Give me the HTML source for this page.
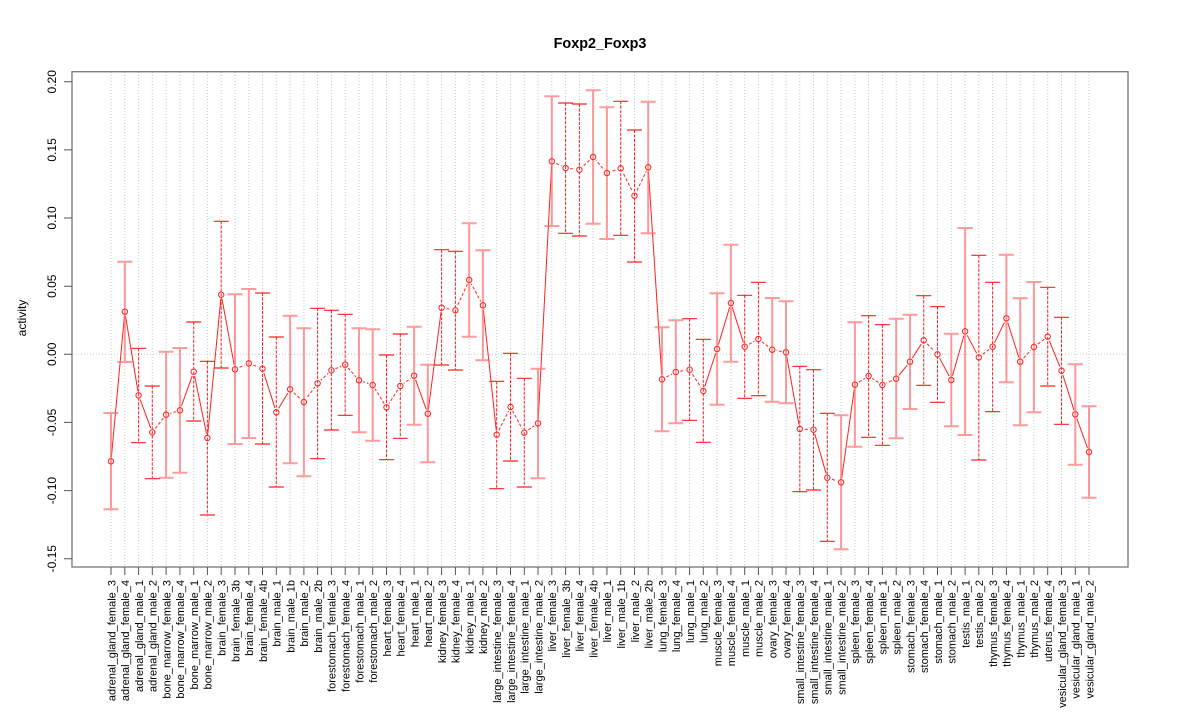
<!DOCTYPE html>
<html><head><meta charset="utf-8"><style>
html,body{margin:0;padding:0;background:#fff;}
svg{display:block;}
text{font-family:"Liberation Sans",Arial,sans-serif;fill:#000;}
.xl{font-size:11px;}
</style></head><body>
<svg width="1200" height="720" viewBox="0 0 1200 720" xmlns="http://www.w3.org/2000/svg">
<defs>
<g id="pts">
<circle cx="111" cy="461.3" r="2.7"/><circle cx="124.8" cy="311.7" r="2.7"/><circle cx="138.6" cy="395.3" r="2.7"/><circle cx="152.3" cy="432.3" r="2.7"/><circle cx="166.1" cy="414.7" r="2.7"/><circle cx="179.9" cy="410.3" r="2.7"/><circle cx="193.7" cy="371.7" r="2.7"/><circle cx="207.4" cy="438" r="2.7"/><circle cx="221.2" cy="294.7" r="2.7"/><circle cx="235" cy="369.3" r="2.7"/><circle cx="248.8" cy="363.3" r="2.7"/><circle cx="262.5" cy="368.7" r="2.7"/><circle cx="276.3" cy="412.3" r="2.7"/><circle cx="290.1" cy="389.3" r="2.7"/><circle cx="303.9" cy="402" r="2.7"/><circle cx="317.6" cy="383.3" r="2.7"/><circle cx="331.4" cy="370.3" r="2.7"/><circle cx="345.2" cy="364.7" r="2.7"/><circle cx="359" cy="380.3" r="2.7"/><circle cx="372.7" cy="385" r="2.7"/><circle cx="386.5" cy="407.3" r="2.7"/><circle cx="400.3" cy="386" r="2.7"/><circle cx="414.1" cy="375.7" r="2.7"/><circle cx="427.8" cy="413.7" r="2.7"/><circle cx="441.6" cy="307.7" r="2.7"/><circle cx="455.4" cy="310.3" r="2.7"/><circle cx="469.2" cy="280" r="2.7"/><circle cx="482.9" cy="305.3" r="2.7"/><circle cx="496.7" cy="434.7" r="2.7"/><circle cx="510.5" cy="407" r="2.7"/><circle cx="524.3" cy="432.7" r="2.7"/><circle cx="538" cy="423.3" r="2.7"/><circle cx="551.8" cy="161.3" r="2.7"/><circle cx="565.6" cy="168" r="2.7"/><circle cx="579.4" cy="169.7" r="2.7"/><circle cx="593.1" cy="157" r="2.7"/><circle cx="606.9" cy="173" r="2.7"/><circle cx="620.7" cy="168.3" r="2.7"/><circle cx="634.5" cy="195.7" r="2.7"/><circle cx="648.2" cy="167.3" r="2.7"/><circle cx="662" cy="379.3" r="2.7"/><circle cx="675.8" cy="372" r="2.7"/><circle cx="689.6" cy="369.7" r="2.7"/><circle cx="703.3" cy="391" r="2.7"/><circle cx="717.1" cy="349" r="2.7"/><circle cx="730.9" cy="303" r="2.7"/><circle cx="744.7" cy="346.7" r="2.7"/><circle cx="758.4" cy="339" r="2.7"/><circle cx="772.2" cy="349.7" r="2.7"/><circle cx="786" cy="352.3" r="2.7"/><circle cx="799.8" cy="429" r="2.7"/><circle cx="813.5" cy="429.7" r="2.7"/><circle cx="827.3" cy="477.7" r="2.7"/><circle cx="841.1" cy="482.3" r="2.7"/><circle cx="854.9" cy="384.7" r="2.7"/><circle cx="868.6" cy="376" r="2.7"/><circle cx="882.4" cy="385" r="2.7"/><circle cx="896.2" cy="378.7" r="2.7"/><circle cx="910" cy="361.7" r="2.7"/><circle cx="923.7" cy="340.3" r="2.7"/><circle cx="937.5" cy="354.3" r="2.7"/><circle cx="951.3" cy="380" r="2.7"/><circle cx="965.1" cy="331.3" r="2.7"/><circle cx="978.8" cy="357.3" r="2.7"/><circle cx="992.6" cy="346.7" r="2.7"/><circle cx="1006.4" cy="318.3" r="2.7"/><circle cx="1020.2" cy="361.7" r="2.7"/><circle cx="1033.9" cy="347" r="2.7"/><circle cx="1047.7" cy="336.7" r="2.7"/><circle cx="1061.5" cy="370.7" r="2.7"/><circle cx="1075.3" cy="414.3" r="2.7"/><circle cx="1089" cy="452" r="2.7"/>
</g>
</defs>

<!-- grid -->
<path fill="none" stroke="#c8c8c8" stroke-width="1" stroke-dasharray="1 2" d="M111 72V567M124.8 72V567M138.6 72V567M152.3 72V567M166.1 72V567M179.9 72V567M193.7 72V567M207.4 72V567M221.2 72V567M235 72V567M248.8 72V567M262.5 72V567M276.3 72V567M290.1 72V567M303.9 72V567M317.6 72V567M331.4 72V567M345.2 72V567M359 72V567M372.7 72V567M386.5 72V567M400.3 72V567M414.1 72V567M427.8 72V567M441.6 72V567M455.4 72V567M469.2 72V567M482.9 72V567M496.7 72V567M510.5 72V567M524.3 72V567M538 72V567M551.8 72V567M565.6 72V567M579.4 72V567M593.1 72V567M606.9 72V567M620.7 72V567M634.5 72V567M648.2 72V567M662 72V567M675.8 72V567M689.6 72V567M703.3 72V567M717.1 72V567M730.9 72V567M744.7 72V567M758.4 72V567M772.2 72V567M786 72V567M799.8 72V567M813.5 72V567M827.3 72V567M841.1 72V567M854.9 72V567M868.6 72V567M882.4 72V567M896.2 72V567M910 72V567M923.7 72V567M937.5 72V567M951.3 72V567M965.1 72V567M978.8 72V567M992.6 72V567M1006.4 72V567M1020.2 72V567M1033.9 72V567M1047.7 72V567M1061.5 72V567M1075.3 72V567M1089 72V567M72 354.3H1128"/>

<!-- connecting segments -->
<path fill="none" stroke="#ff2020" stroke-width="1" d="M111 461.3L124.8 311.7L138.6 395.3L152.3 432.3M179.9 410.3L193.7 371.7L207.4 438L221.2 294.7L235 369.3M262.5 368.7L276.3 412.3L290.1 389.3M414.1 375.7L427.8 413.7L441.6 307.7M482.9 305.3L496.7 434.7M538 423.3L551.8 161.3M648.2 167.3L662 379.3M703.3 391L717.1 349L730.9 303L744.7 346.7M786 352.3L799.8 429M813.5 429.7L827.3 477.7M841.1 482.3L854.9 384.7M896.2 378.7L910 361.7L923.7 340.3M937.5 354.3L951.3 380L965.1 331.3L978.8 357.3M992.6 346.7L1006.4 318.3L1020.2 361.7M1047.7 336.7L1061.5 370.7L1075.3 414.3L1089 452"/>
<path fill="none" stroke="#ff2020" stroke-width="1" stroke-dasharray="3 2" d="M152.3 432.3L166.1 414.7L179.9 410.3M235 369.3L248.8 363.3L262.5 368.7M290.1 389.3L303.9 402L317.6 383.3L331.4 370.3L345.2 364.7L359 380.3L372.7 385L386.5 407.3L400.3 386L414.1 375.7M441.6 307.7L455.4 310.3L469.2 280L482.9 305.3M496.7 434.7L510.5 407L524.3 432.7L538 423.3M551.8 161.3L565.6 168L579.4 169.7L593.1 157L606.9 173L620.7 168.3L634.5 195.7L648.2 167.3M662 379.3L675.8 372L689.6 369.7L703.3 391M744.7 346.7L758.4 339L772.2 349.7L786 352.3M799.8 429L813.5 429.7M827.3 477.7L841.1 482.3M854.9 384.7L868.6 376L882.4 385L896.2 378.7M923.7 340.3L937.5 354.3M978.8 357.3L992.6 346.7M1020.2 361.7L1033.9 347L1047.7 336.7"/>

<!-- white gaps around points -->
<use href="#pts" fill="#fff" stroke="#fff" stroke-width="3.6"/>

<!-- pink solid error bars -->
<path fill="none" stroke="#ff7070" stroke-opacity="0.7" stroke-width="2" d="M111 413V509.3M103.5 413H118.5M103.5 509.3H118.5M124.8 261.7V362M117.3 261.7H132.3M117.3 362H132.3M166.1 351.7V477.7M158.6 351.7H173.6M158.6 477.7H173.6M179.9 348V472.7M172.4 348H187.4M172.4 472.7H187.4M235 294.3V444M227.5 294.3H242.5M227.5 444H242.5M248.8 289V438M241.3 289H256.3M241.3 438H256.3M290.1 315.7V463.3M282.6 315.7H297.6M282.6 463.3H297.6M303.9 328.3V476.3M296.4 328.3H311.4M296.4 476.3H311.4M359 328.3V432.3M351.5 328.3H366.5M351.5 432.3H366.5M372.7 329.3V440.7M365.2 329.3H380.2M365.2 440.7H380.2M414.1 326.7V424.7M406.6 326.7H421.6M406.6 424.7H421.6M427.8 364.7V462.3M420.3 364.7H435.3M420.3 462.3H435.3M469.2 223.3V336.7M461.7 223.3H476.7M461.7 336.7H476.7M482.9 250.3V360.3M475.4 250.3H490.4M475.4 360.3H490.4M538 368.7V478.3M530.5 368.7H545.5M530.5 478.3H545.5M551.8 96.3V226M544.3 96.3H559.3M544.3 226H559.3M593.1 90.3V223.7M585.6 90.3H600.6M585.6 223.7H600.6M606.9 107.3V239M599.4 107.3H614.4M599.4 239H614.4M648.2 101.7V233.3M640.7 101.7H655.7M640.7 233.3H655.7M662 327.3V431.3M654.5 327.3H669.5M654.5 431.3H669.5M675.8 320.3V423.3M668.3 320.3H683.3M668.3 423.3H683.3M717.1 293.3V404.7M709.6 293.3H724.6M709.6 404.7H724.6M730.9 244.7V361.7M723.4 244.7H738.4M723.4 361.7H738.4M772.2 298V401.7M764.7 298H779.7M764.7 401.7H779.7M786 301.3V403.3M778.5 301.3H793.5M778.5 403.3H793.5M841.1 415.3V549.3M833.6 415.3H848.6M833.6 549.3H848.6M854.9 322.3V446.7M847.4 322.3H862.4M847.4 446.7H862.4M896.2 318.7V438.3M888.7 318.7H903.7M888.7 438.3H903.7M910 314.7V409M902.5 314.7H917.5M902.5 409H917.5M951.3 333.7V426.3M943.8 333.7H958.8M943.8 426.3H958.8M965.1 228V435M957.6 228H972.6M957.6 435H972.6M1006.4 254.7V382.3M998.9 254.7H1013.9M998.9 382.3H1013.9M1020.2 298.3V425.3M1012.7 298.3H1027.7M1012.7 425.3H1027.7M1033.9 282V412.3M1026.4 282H1041.4M1026.4 412.3H1041.4M1075.3 364.3V464.7M1067.8 364.3H1082.8M1067.8 464.7H1082.8M1089 406.3V497.7M1081.5 406.3H1096.5M1081.5 497.7H1096.5"/>

<!-- red dashed error bars -->
<path fill="none" stroke="#ff2020" stroke-width="1" stroke-dasharray="3 1.5" d="M138.6 348.3V442.7M152.3 386V478.7M193.7 322V421M207.4 361.3V515M221.2 221.3V368M262.5 293V444M276.3 337V487M317.6 308.3V458.7M331.4 310.3V430M345.2 314.3V415.3M386.5 355V459.7M400.3 334V438.3M441.6 249.7V365M455.4 251.3V370M496.7 381.3V488.7M510.5 353.3V461M524.3 378.3V487M565.6 103V233.3M579.4 104V236M620.7 101.3V235.3M634.5 130V262M689.6 318.7V420.3M703.3 339.3V442.3M744.7 295.3V398.3M758.4 282.3V395.7M799.8 366.3V491.7M813.5 369.7V490M827.3 413.3V541.3M868.6 315.7V437.3M882.4 324.7V445.3M923.7 295.7V385.3M937.5 306.7V402.3M978.8 255.3V460M992.6 282.3V411.7M1047.7 287.3V386M1061.5 317.3V424.3"/>
<path fill="none" stroke="#ff2020" stroke-width="1.2" d="M131.1 348.3h15M131.1 442.7h15M144.8 386h15M144.8 478.7h15M186.2 322h15M186.2 421h15M199.9 361.3h15M199.9 515h15M213.7 221.3h15M213.7 368h15M255 293h15M255 444h15M268.8 337h15M268.8 487h15M310.1 308.3h15M310.1 458.7h15M323.9 310.3h15M323.9 430h15M337.7 314.3h15M337.7 415.3h15M379 355h15M379 459.7h15M392.8 334h15M392.8 438.3h15M434.1 249.7h15M434.1 365h15M447.9 251.3h15M447.9 370h15M489.2 381.3h15M489.2 488.7h15M503 353.3h15M503 461h15M516.8 378.3h15M516.8 487h15M558.1 103h15M558.1 233.3h15M571.9 104h15M571.9 236h15M613.2 101.3h15M613.2 235.3h15M627 130h15M627 262h15M682.1 318.7h15M682.1 420.3h15M695.8 339.3h15M695.8 442.3h15M737.2 295.3h15M737.2 398.3h15M750.9 282.3h15M750.9 395.7h15M792.3 366.3h15M792.3 491.7h15M806 369.7h15M806 490h15M819.8 413.3h15M819.8 541.3h15M861.1 315.7h15M861.1 437.3h15M874.9 324.7h15M874.9 445.3h15M916.2 295.7h15M916.2 385.3h15M930 306.7h15M930 402.3h15M971.3 255.3h15M971.3 460h15M985.1 282.3h15M985.1 411.7h15M1040.2 287.3h15M1040.2 386h15M1054 317.3h15M1054 424.3h15"/>

<!-- points -->
<use href="#pts" fill="none" stroke="#ff2020" stroke-width="1"/>

<!-- box -->
<rect x="72" y="71.7" width="1056" height="495.3" fill="none" stroke="#808080" stroke-width="1.4"/>

<!-- y axis ticks -->
<path fill="none" stroke="#555" stroke-width="1" d="M64 81.8H72M64 149.9H72M64 218H72M64 286.2H72M64 354.3H72M64 422.4H72M64 490.6H72M64 558.7H72"/>
<g font-size="12" text-anchor="middle">
<text transform="translate(56,81.8) rotate(-90)">0.20</text>
<text transform="translate(56,149.9) rotate(-90)">0.15</text>
<text transform="translate(56,218) rotate(-90)">0.10</text>
<text transform="translate(56,286.2) rotate(-90)">0.05</text>
<text transform="translate(56,354.3) rotate(-90)">0.00</text>
<text transform="translate(56,422.4) rotate(-90)">-0.05</text>
<text transform="translate(56,490.6) rotate(-90)">-0.10</text>
<text transform="translate(56,558.7) rotate(-90)">-0.15</text>
</g>
<text font-size="12" text-anchor="middle" transform="translate(26,318) rotate(-90)">activity</text>
<text x="600" y="48" font-size="14.4" font-weight="bold" text-anchor="middle">Foxp2_Foxp3</text>

<!-- x ticks -->
<path fill="none" stroke="#555" stroke-width="1" d="M111 567V575M124.8 567V575M138.6 567V575M152.3 567V575M166.1 567V575M179.9 567V575M193.7 567V575M207.4 567V575M221.2 567V575M235 567V575M248.8 567V575M262.5 567V575M276.3 567V575M290.1 567V575M303.9 567V575M317.6 567V575M331.4 567V575M345.2 567V575M359 567V575M372.7 567V575M386.5 567V575M400.3 567V575M414.1 567V575M427.8 567V575M441.6 567V575M455.4 567V575M469.2 567V575M482.9 567V575M496.7 567V575M510.5 567V575M524.3 567V575M538 567V575M551.8 567V575M565.6 567V575M579.4 567V575M593.1 567V575M606.9 567V575M620.7 567V575M634.5 567V575M648.2 567V575M662 567V575M675.8 567V575M689.6 567V575M703.3 567V575M717.1 567V575M730.9 567V575M744.7 567V575M758.4 567V575M772.2 567V575M786 567V575M799.8 567V575M813.5 567V575M827.3 567V575M841.1 567V575M854.9 567V575M868.6 567V575M882.4 567V575M896.2 567V575M910 567V575M923.7 567V575M937.5 567V575M951.3 567V575M965.1 567V575M978.8 567V575M992.6 567V575M1006.4 567V575M1020.2 567V575M1033.9 567V575M1047.7 567V575M1061.5 567V575M1075.3 567V575M1089 567V575"/>

<!-- x labels -->
<g class="xl" text-anchor="end">
<text transform="translate(115.3,580) rotate(-90)">adrenal_gland_female_3</text>
<text transform="translate(129.1,580) rotate(-90)">adrenal_gland_female_4</text>
<text transform="translate(142.9,580) rotate(-90)">adrenal_gland_male_1</text>
<text transform="translate(156.6,580) rotate(-90)">adrenal_gland_male_2</text>
<text transform="translate(170.4,580) rotate(-90)">bone_marrow_female_3</text>
<text transform="translate(184.2,580) rotate(-90)">bone_marrow_female_4</text>
<text transform="translate(198,580) rotate(-90)">bone_marrow_male_1</text>
<text transform="translate(211.7,580) rotate(-90)">bone_marrow_male_2</text>
<text transform="translate(225.5,580) rotate(-90)">brain_female_3</text>
<text transform="translate(239.3,580) rotate(-90)">brain_female_3b</text>
<text transform="translate(253.1,580) rotate(-90)">brain_female_4</text>
<text transform="translate(266.8,580) rotate(-90)">brain_female_4b</text>
<text transform="translate(280.6,580) rotate(-90)">brain_male_1</text>
<text transform="translate(294.4,580) rotate(-90)">brain_male_1b</text>
<text transform="translate(308.2,580) rotate(-90)">brain_male_2</text>
<text transform="translate(321.9,580) rotate(-90)">brain_male_2b</text>
<text transform="translate(335.7,580) rotate(-90)">forestomach_female_3</text>
<text transform="translate(349.5,580) rotate(-90)">forestomach_female_4</text>
<text transform="translate(363.3,580) rotate(-90)">forestomach_male_1</text>
<text transform="translate(377,580) rotate(-90)">forestomach_male_2</text>
<text transform="translate(390.8,580) rotate(-90)">heart_female_3</text>
<text transform="translate(404.6,580) rotate(-90)">heart_female_4</text>
<text transform="translate(418.4,580) rotate(-90)">heart_male_1</text>
<text transform="translate(432.1,580) rotate(-90)">heart_male_2</text>
<text transform="translate(445.9,580) rotate(-90)">kidney_female_3</text>
<text transform="translate(459.7,580) rotate(-90)">kidney_female_4</text>
<text transform="translate(473.5,580) rotate(-90)">kidney_male_1</text>
<text transform="translate(487.2,580) rotate(-90)">kidney_male_2</text>
<text transform="translate(501,580) rotate(-90)">large_intestine_female_3</text>
<text transform="translate(514.8,580) rotate(-90)">large_intestine_female_4</text>
<text transform="translate(528.6,580) rotate(-90)">large_intestine_male_1</text>
<text transform="translate(542.3,580) rotate(-90)">large_intestine_male_2</text>
<text transform="translate(556.1,580) rotate(-90)">liver_female_3</text>
<text transform="translate(569.9,580) rotate(-90)">liver_female_3b</text>
<text transform="translate(583.7,580) rotate(-90)">liver_female_4</text>
<text transform="translate(597.4,580) rotate(-90)">liver_female_4b</text>
<text transform="translate(611.2,580) rotate(-90)">liver_male_1</text>
<text transform="translate(625,580) rotate(-90)">liver_male_1b</text>
<text transform="translate(638.8,580) rotate(-90)">liver_male_2</text>
<text transform="translate(652.5,580) rotate(-90)">liver_male_2b</text>
<text transform="translate(666.3,580) rotate(-90)">lung_female_3</text>
<text transform="translate(680.1,580) rotate(-90)">lung_female_4</text>
<text transform="translate(693.9,580) rotate(-90)">lung_male_1</text>
<text transform="translate(707.6,580) rotate(-90)">lung_male_2</text>
<text transform="translate(721.4,580) rotate(-90)">muscle_female_3</text>
<text transform="translate(735.2,580) rotate(-90)">muscle_female_4</text>
<text transform="translate(749,580) rotate(-90)">muscle_male_1</text>
<text transform="translate(762.7,580) rotate(-90)">muscle_male_2</text>
<text transform="translate(776.5,580) rotate(-90)">ovary_female_3</text>
<text transform="translate(790.3,580) rotate(-90)">ovary_female_4</text>
<text transform="translate(804.1,580) rotate(-90)">small_intestine_female_3</text>
<text transform="translate(817.8,580) rotate(-90)">small_intestine_female_4</text>
<text transform="translate(831.6,580) rotate(-90)">small_intestine_male_1</text>
<text transform="translate(845.4,580) rotate(-90)">small_intestine_male_2</text>
<text transform="translate(859.2,580) rotate(-90)">spleen_female_3</text>
<text transform="translate(872.9,580) rotate(-90)">spleen_female_4</text>
<text transform="translate(886.7,580) rotate(-90)">spleen_male_1</text>
<text transform="translate(900.5,580) rotate(-90)">spleen_male_2</text>
<text transform="translate(914.3,580) rotate(-90)">stomach_female_3</text>
<text transform="translate(928,580) rotate(-90)">stomach_female_4</text>
<text transform="translate(941.8,580) rotate(-90)">stomach_male_1</text>
<text transform="translate(955.6,580) rotate(-90)">stomach_male_2</text>
<text transform="translate(969.4,580) rotate(-90)">testis_male_1</text>
<text transform="translate(983.1,580) rotate(-90)">testis_male_2</text>
<text transform="translate(996.9,580) rotate(-90)">thymus_female_3</text>
<text transform="translate(1010.7,580) rotate(-90)">thymus_female_4</text>
<text transform="translate(1024.5,580) rotate(-90)">thymus_male_1</text>
<text transform="translate(1038.2,580) rotate(-90)">thymus_male_2</text>
<text transform="translate(1052,580) rotate(-90)">uterus_female_4</text>
<text transform="translate(1065.8,580) rotate(-90)">vesicular_gland_female_3</text>
<text transform="translate(1079.6,580) rotate(-90)">vesicular_gland_male_1</text>
<text transform="translate(1093.3,580) rotate(-90)">vesicular_gland_male_2</text>
</g>
</svg>
</body></html>
